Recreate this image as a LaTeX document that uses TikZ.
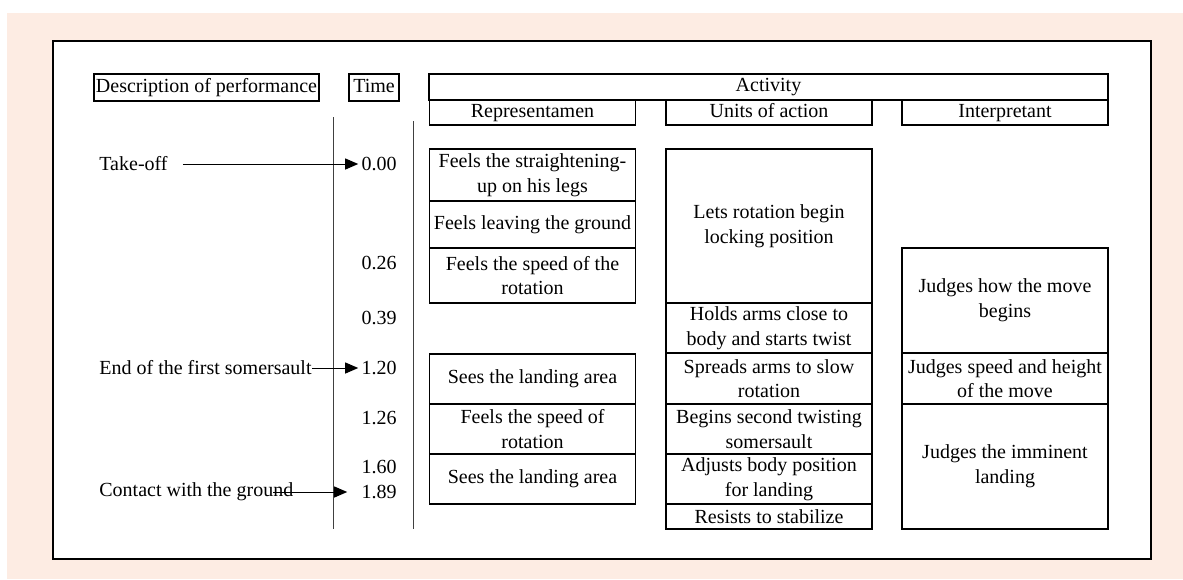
\documentclass[tikz,border=0pt]{standalone}
\usepackage{fontspec}
\setmainfont{Liberation Serif}
\usetikzlibrary{arrows.meta}
\definecolor{peach}{RGB}{253,236,227}
\tikzset{
  cell/.style={draw, line width=0.7pt, inner sep=0pt, align=center, minimum width=103pt},
  head/.style={cell, text height=7pt, text depth=2.2pt},
  hbox/.style={draw, line width=0.7pt, inner sep=0.5pt, minimum height=13.5pt, text height=7pt, text depth=2.2pt},
  tlab/.style={anchor=east, inner sep=0pt},
  lab/.style={anchor=west, inner sep=0pt},
  arr/.style={-{Triangle[length=6.5pt,width=5.5pt]}, line width=0.5pt},
  vline/.style={draw=black!75, line width=0.45pt}
}
\begin{document}
\begin{tikzpicture}[x=0.5pt,y=-0.5pt,font=\fontsize{10}{12.3}\selectfont]
    \useasboundingbox (0,0) rectangle (1183,579);
    \fill[peach] (7,13) rectangle (1183,579);
    \draw[fill=white, line width=0.9pt] (53,41) rectangle (1151,559);

    % headings
    \node[hbox, minimum width=112.5pt] (desc) at (206.5,87.5) {Description of performance};
    \node[hbox, minimum width=25pt] (time) at (374,87.5) {Time};
    \node[head, minimum width=339.5pt, minimum height=13pt] (act) at (768.5,87) {Activity};
    \node[head, minimum height=12.5pt] (repr) at (532.5,112.5) {Representamen};
    \node[head, minimum height=12.5pt] (units) at (769,112.5) {Units of action};
    \node[head, minimum height=12.5pt] (interp) at (1005,112.5) {Interpretant};

    \draw[vline] (333,117) -- (333,529);
    \draw[vline] (413,121) -- (413,529);

    % time axis
    \foreach \nm/\y/\t in {t000/164/0.00, t026/263/0.26, t039/318/0.39, t120/368/1.20,
                           t126/418/1.26, t160/467/1.60, t189/492/1.89}
    {
      \node[tlab] (\nm) at (397,\y) {\t};
    };

    \node[lab] (toff) at (99,164) {Take-off};
    \node[lab] (endf) at (99,368) {End of the first somersault};
    \node[lab] (cont) at (99,492) {Contact with the ground};
    \coordinate (c0) at (273,492);

    \draw[arr, shorten <=7.5pt, shorten >=1.5pt] (toff.east) -- (t000.west);
    \draw[arr, shorten >=1.5pt] (endf.east) -- (t120.west);
    \draw[arr, shorten >=7pt] (c0) -- (t189.west);

    % representamen
    \foreach \nm/\ya/\yb/\txt in {r1/149/201/{Feels the straightening-\\up on his legs},
                                  r2/201/248/{Feels leaving the ground},
                                  r3/248/303/{Feels the speed of the\\rotation},
                                  r4/354/404/{Sees the landing area},
                                  r5/404/454/{Feels the speed of\\rotation},
                                  r6/454/504/{Sees the landing area}}
    {
      \pgfmathsetmacro\h{(\yb-\ya)/2}
      \node[cell, minimum height=\h pt] (\nm) at (532.5,{(\ya+\yb)/2}) {\txt};
    };

    % units of action
    \foreach \nm/\ya/\yb/\txt in {u1/149/303/{Lets rotation begin\\locking position},
                                  u2/303/353/{Holds arms close to\\body and starts twist},
                                  u3/353/404/{Spreads arms to slow\\rotation},
                                  u4/404/454/{Begins second twisting\\somersault},
                                  u5/454/504/{Adjusts body position\\for landing},
                                  u6/504/529/{Resists to stabilize}}
    {
      \pgfmathsetmacro\h{(\yb-\ya)/2}
      \node[cell, minimum height=\h pt] (\nm) at (769,{(\ya+\yb)/2}) {\txt};
    };

    % interpretant
    \foreach \nm/\ya/\yb/\txt in {i1/248/353/{Judges how the move\\begins},
                                  i2/353/404/{Judges speed and height\\of the move},
                                  i3/404/529/{Judges the imminent\\landing}}
    {
      \pgfmathsetmacro\h{(\yb-\ya)/2}
      \node[cell, minimum height=\h pt] (\nm) at (1005,{(\ya+\yb)/2}) {\txt};
    };
  \end{tikzpicture}
\end{document}
